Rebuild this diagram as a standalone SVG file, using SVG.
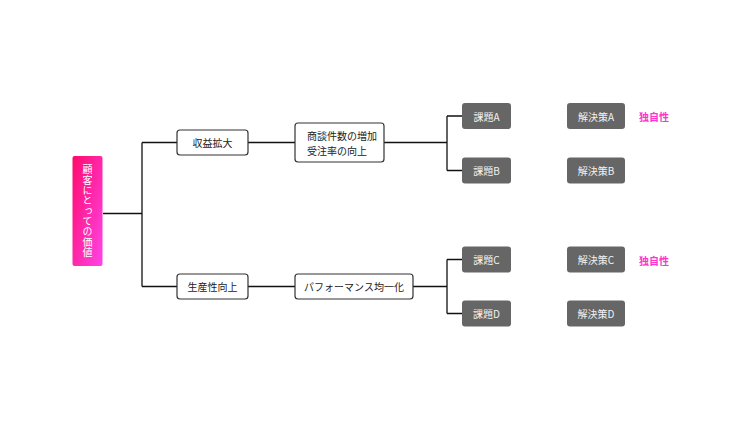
<svg xmlns="http://www.w3.org/2000/svg" width="738" height="422" viewBox="0 0 738 422">
<defs>
<linearGradient id="pink" x1="0" y1="0" x2="1" y2="1">
<stop offset="0" stop-color="#ff0a6c"/>
<stop offset="1" stop-color="#ff45e6"/>
</linearGradient>
<style>
text{font-family:"Noto Sans CJK JP","Noto Sans",sans-serif;font-size:10px;dominant-baseline:central;text-anchor:middle}
.w{fill:#fff;stroke:#333;stroke-width:1.2}
.g{fill:#666}
.gt{fill:#f2f2f2}
.bt{fill:#222}
.u{fill:#ff33cc;text-anchor:start;font-weight:bold}
.c{fill:none;stroke:#111;stroke-width:1.3}
</style>
</defs>
<rect width="738" height="422" fill="#fff"/>
<g id="connectors">
<path class="c" d="M103,213.5H142M142,142.5V286.5M142,142.5H177M142,286.5H177"/>
<path class="c" d="M248,142.5H295M248,286.5H295"/>
<path class="c" d="M384,142.5H447M447,116V170.5M447,116H462M447,170.5H462"/>
<path class="c" d="M413,286.5H447M447,259.5V313.5M447,259.5H462M447,313.5H462"/>
</g>
<g id="root">
<rect x="72.5" y="156" width="30" height="110" rx="2" fill="url(#pink)"/>
<text x="87.5" y="211" fill="#fff" writing-mode="vertical-rl" style="dominant-baseline:auto;letter-spacing:0.3px">顧客にとっての価値</text>
</g>
<g id="n1">
<rect class="w" x="177" y="130" width="71" height="25" rx="3"/>
<text class="bt" x="212.5" y="142.5">収益拡大</text>
</g>
<g id="n2">
<rect class="w" x="177" y="274" width="71" height="25" rx="3"/>
<text class="bt" x="212.5" y="286.5">生産性向上</text>
</g>
<g id="n3">
<rect class="w" x="295" y="123" width="89" height="39" rx="3"/>
<text class="bt" x="307" y="135.5" style="text-anchor:start">商談件数の増加</text>
<text class="bt" x="307" y="150" style="text-anchor:start">受注率の向上</text>
</g>
<g id="n4">
<rect class="w" x="295" y="274" width="118" height="25" rx="3"/>
<text class="bt" x="354" y="286.5">パフォーマンス均一化</text>
</g>
<g id="kA"><rect class="g" x="462" y="103" width="49" height="26" rx="3"/><text class="gt" x="486.5" y="116">課題A</text></g>
<g id="kB"><rect class="g" x="462" y="157.5" width="49" height="26" rx="3"/><text class="gt" x="486.5" y="170.5">課題B</text></g>
<g id="kC"><rect class="g" x="462" y="246.5" width="49" height="26" rx="3"/><text class="gt" x="486.5" y="259.5">課題C</text></g>
<g id="kD"><rect class="g" x="462" y="300.5" width="49" height="26" rx="3"/><text class="gt" x="486.5" y="313.5">課題D</text></g>
<g id="sA"><rect class="g" x="567" y="103" width="58" height="26" rx="3"/><text class="gt" x="596" y="116">解決策A</text></g>
<g id="sB"><rect class="g" x="567" y="157.5" width="58" height="26" rx="3"/><text class="gt" x="596" y="170.5">解決策B</text></g>
<g id="sC"><rect class="g" x="567" y="246.5" width="58" height="26" rx="3"/><text class="gt" x="596" y="259.5">解決策C</text></g>
<g id="sD"><rect class="g" x="567" y="300.5" width="58" height="26" rx="3"/><text class="gt" x="596" y="313.5">解決策D</text></g>
<g id="uA"><text class="u" x="639" y="116">独自性</text></g>
<g id="uC"><text class="u" x="639" y="260">独自性</text></g>
</svg>
